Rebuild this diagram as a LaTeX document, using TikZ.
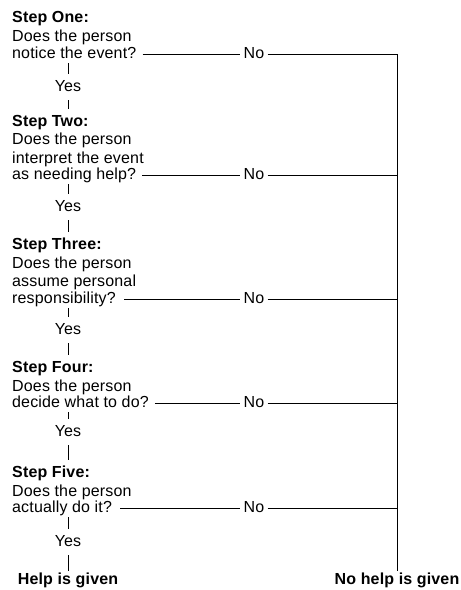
\documentclass[tikz,border=0pt]{standalone}
\usepackage{fontspec}
\setmainfont[LetterSpace=1]{Liberation Sans}

\begin{document}
\begin{tikzpicture}[x=1pt, y=-1pt,
    stepbox/.style={inner sep=2pt, align=left, anchor=west, font=\fontsize{16}{18.3}\selectfont},
    lastline/.style={inner sep=2pt, anchor=west, text height=11pt, text depth=3pt, font=\fontsize{16}{18.3}\selectfont},
    answer/.style={inner xsep=3pt, inner ysep=2pt, text height=11pt, text depth=3pt, font=\fontsize{16}{18.3}\selectfont},
    yesbox/.style={inner xsep=1pt, inner ysep=6pt, text height=11pt, text depth=3pt, font=\fontsize{16}{18.3}\selectfont},
    outcome/.style={inner sep=2pt, text height=11pt, text depth=3pt, font=\fontsize{16}{18.3}\selectfont\bfseries},
    link/.style={line width=0.8pt}
]
\useasboundingbox (0,0) rectangle (461,590);

% Steps
\node[stepbox] at (10,28) (s1) {\textbf{Step One:}\\Does the person};
\node[lastline] at (10,54) (q1) {notice the event?};

\node[stepbox] at (10,141) (s2) {\textbf{Step Two:}\\Does the person\\interpret the event};
\node[lastline] at (10,175) (q2) {as needing help?};

\node[stepbox] at (10,264) (s3) {\textbf{Step Three:}\\Does the person\\assume personal};
\node[lastline] at (10,299) (q3) {responsibility?};

\node[stepbox] at (10,378) (s4) {\textbf{Step Four:}\\Does the person};
\node[lastline] at (10,403) (q4) {decide what to do?};

\node[stepbox] at (10,483) (s5) {\textbf{Step Five:}\\Does the person};
\node[lastline] at (10,508) (q5) {actually do it?};

% Yes answers
\node[yesbox] at (68,87) (yes1) {Yes};
\node[yesbox] at (68,207) (yes2) {Yes};
\node[yesbox] at (68,330) (yes3) {Yes};
\node[yesbox] at (68,432) (yes4) {Yes};
\node[yesbox] at (68,542) (yes5) {Yes};

% No answers
\node[answer] at (254,54) (no1) {No};
\node[answer] at (254,175) (no2) {No};
\node[answer] at (254,299) (no3) {No};
\node[answer] at (254,403) (no4) {No};
\node[answer] at (254,508) (no5) {No};

% Outcomes
\node[outcome] at (68,580) (help) {Help is given};
\node[outcome] at (397,580) (nohelp) {No help is given};

% Yes path
\draw[link] (yes1 |- q1.south) -- (yes1);
\draw[link, shorten >=4pt] (yes1) -- (yes1 |- s2.north);
\draw[link] (yes2 |- q2.south) -- (yes2);
\draw[link, shorten >=4pt] (yes2) -- (yes2 |- s3.north);
\draw[link] (yes3 |- q3.south) -- (yes3);
\draw[link, shorten >=4pt] (yes3) -- (yes3 |- s4.north);
\draw[link] (yes4 |- q4.south) -- (yes4);
\draw[link, shorten >=4pt] (yes4) -- (yes4 |- s5.north);
\draw[link] (yes5 |- q5.south) -- (yes5);
\draw[link] (yes5) -- (help);

% No path
\draw[link, shorten <=4pt] (q1) -- (no1);
\draw[link] (no1) -- (no1 -| nohelp);
\draw[link, shorten <=4pt] (q2) -- (no2);
\draw[link] (no2) -- (no2 -| nohelp);
\draw[link, shorten <=6pt] (q3) -- (no3);
\draw[link] (no3) -- (no3 -| nohelp);
\draw[link, shorten <=4pt] (q4) -- (no4);
\draw[link] (no4) -- (no4 -| nohelp);
\draw[link, shorten <=6pt] (q5) -- (no5);
\draw[link] (no5) -- (no5 -| nohelp);
\draw[link] (no1 -| nohelp) -- (nohelp);

\end{tikzpicture}
\end{document}
